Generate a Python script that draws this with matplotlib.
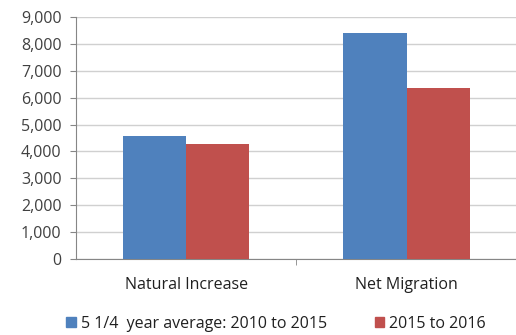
import matplotlib
matplotlib.use("Agg")
import matplotlib.pyplot as plt
import numpy as np
from matplotlib.patches import Patch

categories = ["Natural Increase", "Net Migration"]
series_names = ["5 1/4  year average: 2010 to 2015", "2015 to 2016"]
avg_2010_2015 = [4570, 8400]
yr_2015_2016 = [4280, 6350]
y_ticks = [0, 1000, 2000, 3000, 4000, 5000, 6000, 7000, 8000, 9000]

colors = ["#4F81BD", "#C0504D"]
plt.rcParams['font.family'] = ['Open Sans', 'DejaVu Sans']

fig = plt.figure(figsize=(5.16, 3.35), dpi=100)
ax = fig.add_axes([0.147, 0.227, 0.855, 0.722])

x = np.arange(len(categories))
w = 0.287
ax.bar(x - w/2, avg_2010_2015, width=w, color=colors[0], zorder=3)
ax.bar(x + w/2, yr_2015_2016, width=w, color=colors[1], zorder=3)

ax.set_xlim(-0.5, 1.5)
ax.set_ylim(0, 9000)
ax.set_yticks(y_ticks)
ax.set_yticklabels([f"{v:,}" for v in y_ticks], fontsize=11.5, color="#404040")
ax.yaxis.grid(True, color="#D0D0D0", linewidth=1, zorder=0)
ax.set_xticks(x)
ax.set_xticklabels(categories, fontsize=11.5, color="#202020")
ax.tick_params(axis='x', length=0, pad=13)
ax.tick_params(axis='y', length=4.3, color="#868686", pad=6)
ax.set_xticks([0.5], minor=True)
ax.tick_params(axis='x', which='minor', length=4, color="#868686")

for s in ["top", "right"]:
    ax.spines[s].set_visible(False)
for s in ["left", "bottom"]:
    ax.spines[s].set_color("#868686")

handles = [Patch(color=c) for c in colors]
fig.legend(handles, series_names, loc="center", bbox_to_anchor=(0.535, 0.033),
           ncol=2, frameon=False, fontsize=11.5, handlelength=0.6, handleheight=0.6,
           handletextpad=0.3, columnspacing=3.0, labelcolor="#202020")

fig.savefig("out.png", dpi=100)
